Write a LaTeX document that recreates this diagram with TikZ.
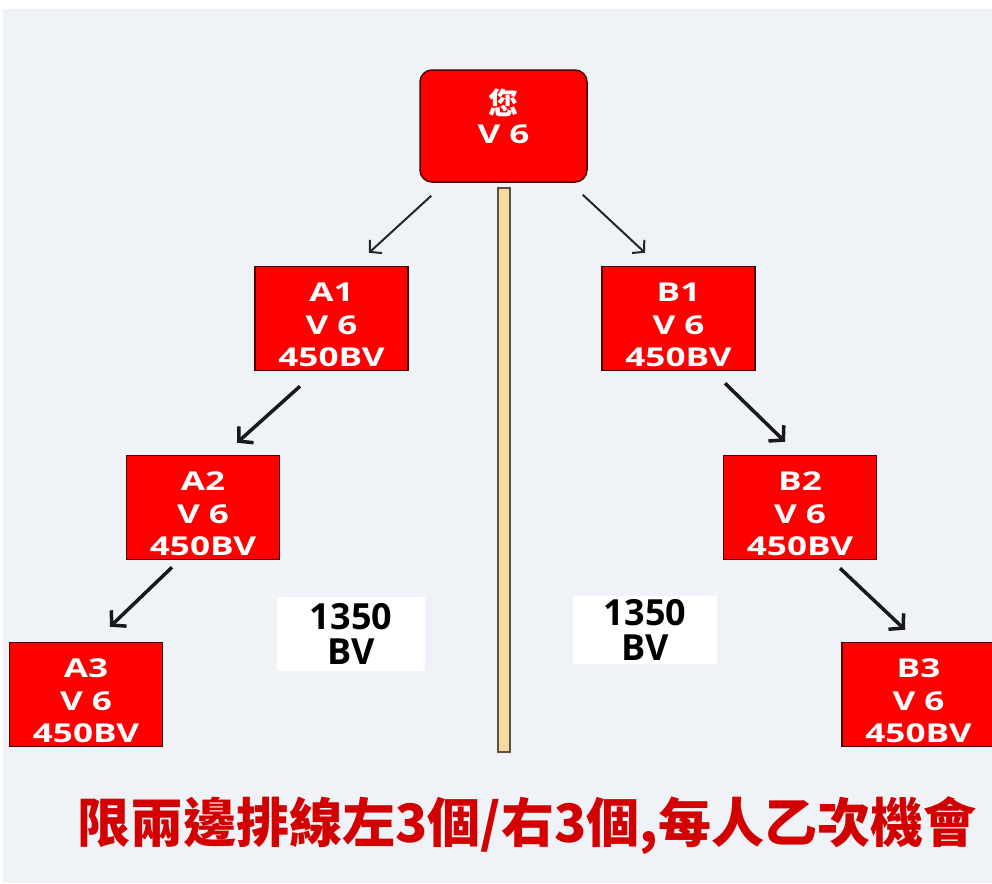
\documentclass[tikz,border=0pt]{standalone}
\usepackage{fontspec}
\usepackage{graphicx}
\setmainfont{Open Sans}
\newfontfamily\cjk{Noto Sans CJK TC}
\usetikzlibrary{arrows.meta,calc}
\definecolor{bggray}{HTML}{EFF2F7}
\definecolor{boxred}{HTML}{FF0000}
\definecolor{boxedge}{HTML}{4A0000}
\definecolor{barfill}{HTML}{F7DCA0}
\definecolor{baredge}{HTML}{5E5040}
\definecolor{notered}{HTML}{D20000}
\newcommand{\wide}[1]{\scalebox{1.35}[1]{#1}}
\tikzset{
  member/.style={draw=boxedge, line width=1.5pt, fill=boxred, text=white, inner sep=0pt,
    minimum width=153pt, minimum height=104pt, align=center, text height=96pt, text depth=0pt,
    font=\bfseries\fontsize{26}{32.5}\selectfont},
  total/.style={fill=white, inner sep=0pt, align=center, text=black,
    font=\bfseries\fontsize{36}{35}\selectfont},
  thinlink/.style={-{Straight Barb[length=8pt,width=18pt]}, line width=2pt, draw=black!85},
  thicklink/.style={-{Straight Barb[length=10pt,width=22pt]}, line width=3.5pt, draw=black!90}
}
\begin{document}
\begin{tikzpicture}[x=1pt,y=-1pt]
    \useasboundingbox (0,0) rectangle (992,883);
    \fill[bggray] (3,9) rectangle (992,883);
    \begin{scope}
    \clip (0,0) rectangle (992,883);
    \node[member, rounded corners=12pt, minimum width=167pt, minimum height=112pt,
      text height=35pt] (you) at (503.5,126)
      {{\cjk\fontsize{30}{31}\selectfont 您}\\[-3pt]\wide{V 6}};
    \node[member] (a1) at (331.5,318.5) {\wide{A1}\\\wide{V 6}\\\wide{450BV}};
    \node[member] (b1) at (678.5,318.5) {\wide{B1}\\\wide{V 6}\\\wide{450BV}};
    \node[member] (a2) at (203,507.5) {\wide{A2}\\\wide{V 6}\\\wide{450BV}};
    \node[member] (b2) at (800,507.5) {\wide{B2}\\\wide{V 6}\\\wide{450BV}};
    \node[member] (a3) at (86,694.5) {\wide{A3}\\\wide{V 6}\\\wide{450BV}};
    \node[member] (b3) at (918.5,694.5) {\wide{B3}\\\wide{V 6}\\\wide{450BV}};
    \end{scope}
    \node[draw=baredge, line width=1.5pt, fill=barfill, minimum width=12pt, minimum height=564pt,
      inner sep=0pt] (divider) at (504,470) {};
    \node[total, minimum width=148pt, minimum height=74pt] (lefttotal) at (351,634) {1350\\BV};
    \node[total, minimum width=144pt, minimum height=68pt] (righttotal) at (645,630) {1350\\BV};
    \draw[thinlink] ($(you.south west)+(12,13)$) -- ($(a1.north)+(37.5,-13)$);
    \draw[thinlink] ($(you.south east)+(-5,12)$) -- ($(b1.north)+(-33.5,-13)$);
    \draw[thicklink] ($(a1.south)+(-31.5,15)$) -- ($(a2.north)+(34,-12)$);
    \draw[thicklink] ($(b1.south)+(46.5,12)$) -- ($(b2.north)+(-15,-13)$);
    \draw[thicklink] ($(a2.south)+(-31,7)$) -- ($(a3.north)+(24,-15)$);
    \draw[thicklink] ($(b2.south)+(40,8)$) -- ($(b3.north)+(-13.5,-12)$);
    \node[text=notered, font=\cjk\bfseries\fontsize{53}{53}\selectfont] (rule) at (527,826)
      {限兩邊排線左3個/右3個,每人乙次機會};
\end{tikzpicture}
\end{document}
